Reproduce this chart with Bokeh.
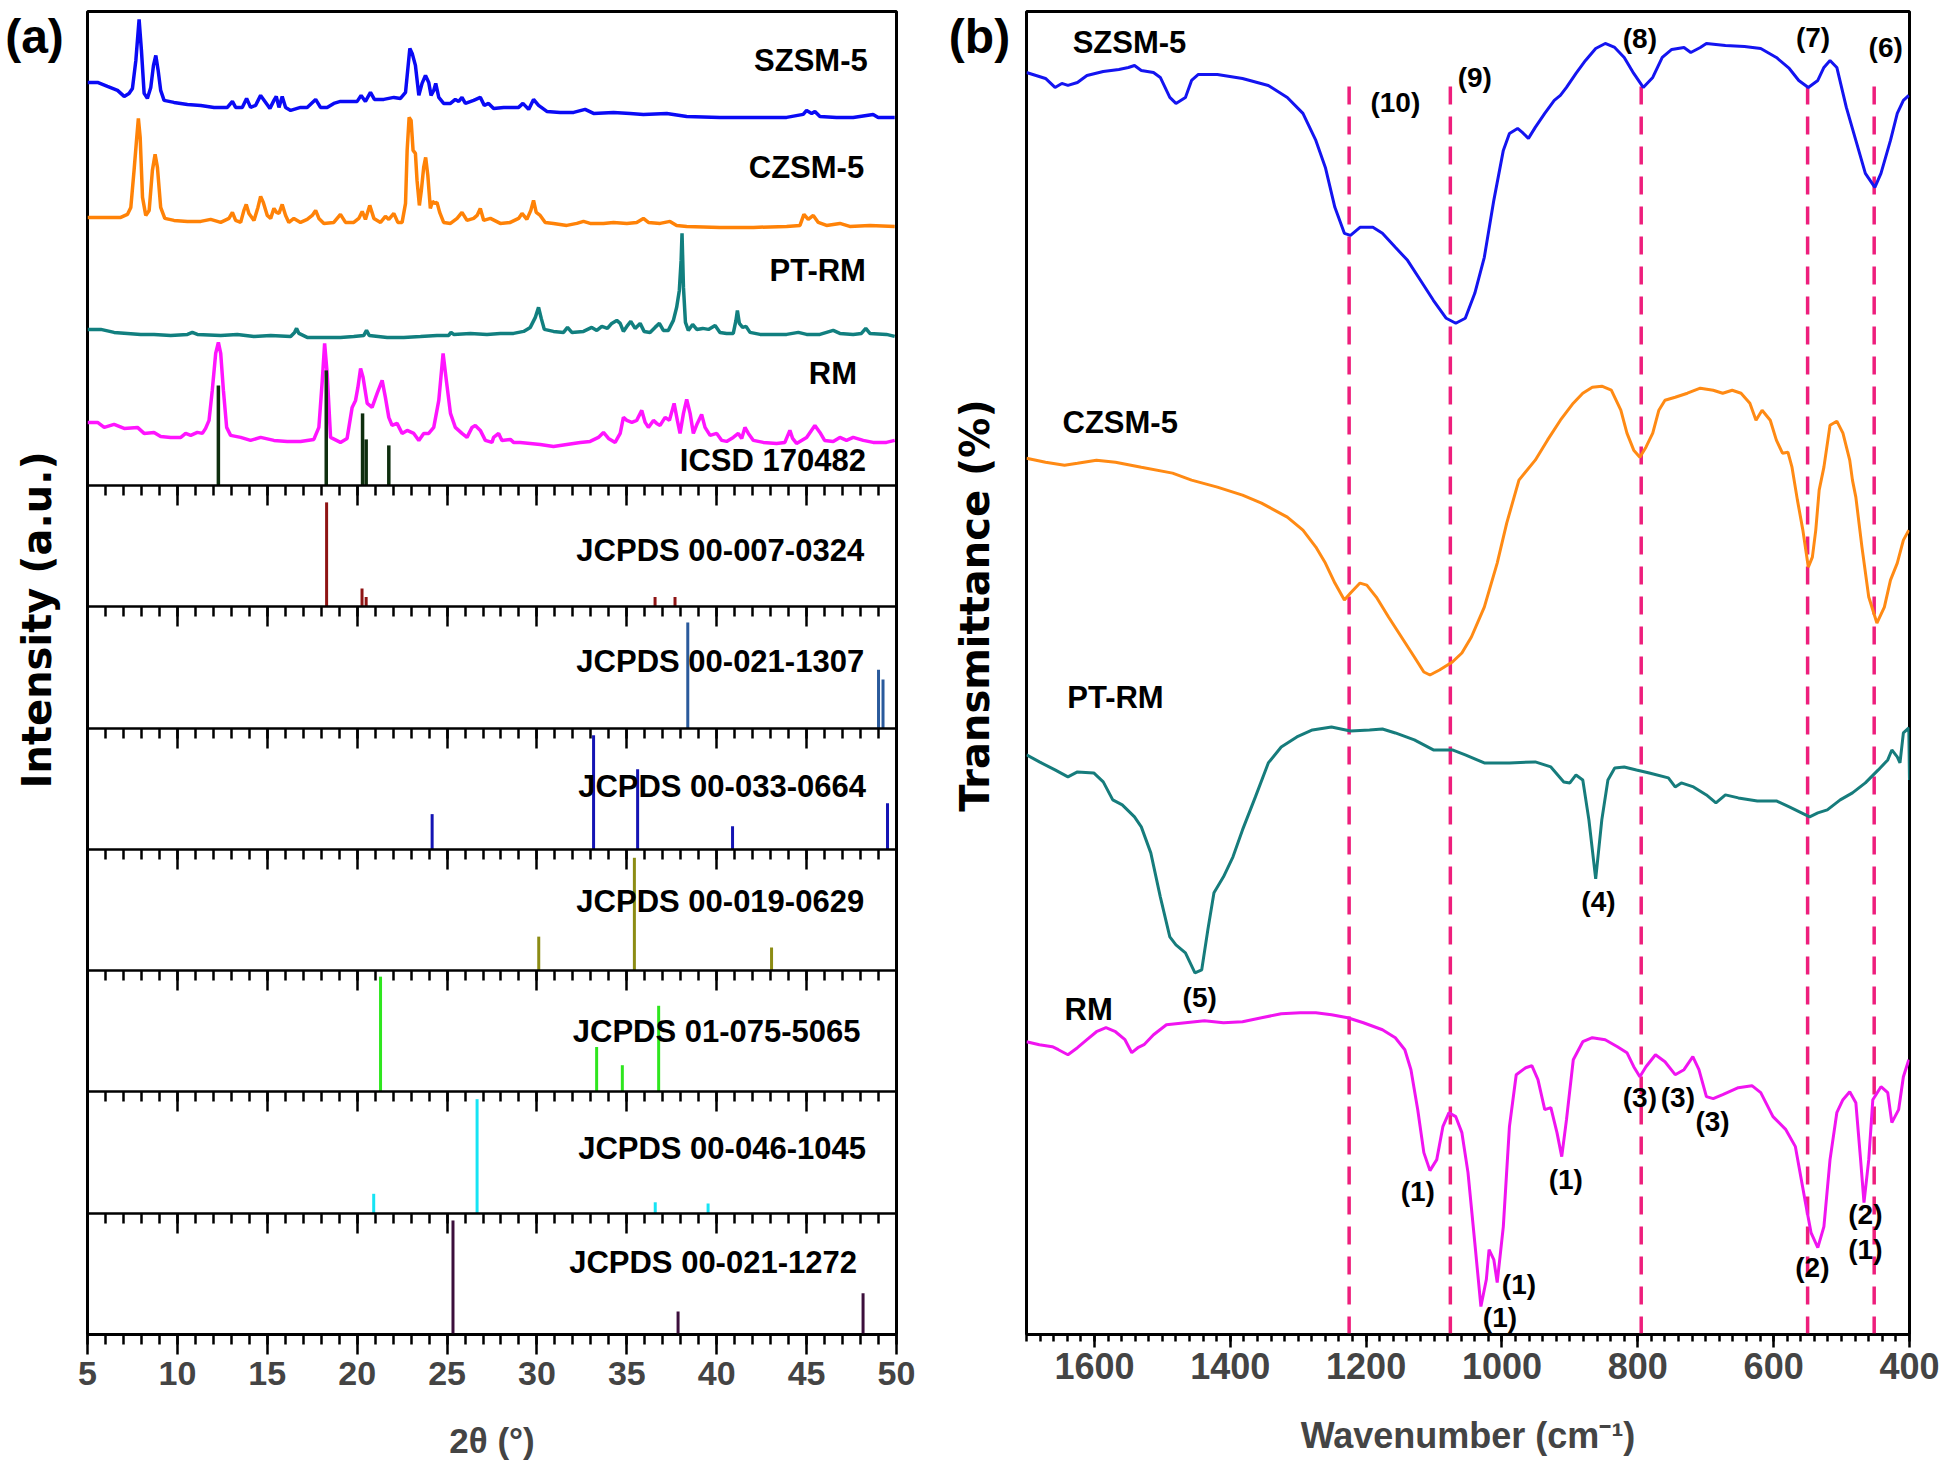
import numpy as np
from math import pi
from bokeh.plotting import figure
from bokeh.layouts import row
from bokeh.models import Range1d, LinearAxis, SingleIntervalTicker
from bokeh.core.properties import value
from bokeh.embed import file_html
from bokeh.resources import INLINE

FONT = "Liberation Sans"
WIDE = "DejaVu Sans"

# ======================= (a) XRD data =======================
# (2theta, intensity a.u.) ; intensities are stacked heights above the reference-card strips
SZSM_XRD = [(5.0,403),(5.56,403),(6.11,399),(6.67,395),(7.04,389),(7.31,392),(7.5,397),(7.69,425),(7.87,466),(8.0,435),
            (8.15,392),(8.33,387),(8.52,398),(8.67,420),(8.8,430),(8.93,415),(9.07,395),(9.26,385),(9.81,383),(10.56,381),
            (11.3,380),(12.04,378),(12.78,378),(13.06,384),(13.24,378),(13.61,378),(13.85,387),(14.07,378),(14.35,380),(14.63,390),
            (14.91,383),(15.15,377),(15.37,385),(15.5,389),(15.65,378),(15.83,389),(16.02,378),(16.3,375),(16.85,378),(17.22,378),
            (17.69,386),(17.96,378),(18.33,378),(18.7,382),(19.07,384),(19.63,384),(20.0,384),(20.22,390),(20.46,384),(20.74,393),
            (20.96,386),(21.48,386),(22.04,388),(22.41,387),(22.69,393),(22.81,415),(22.93,437),(23.06,432),(23.24,420),(23.43,390),
            (23.61,402),(23.8,410),(23.98,403),(24.11,390),(24.26,395),(24.37,402),(24.54,388),(24.81,382),(25.19,382),(25.46,386),
            (25.65,384),(25.83,388),(26.02,382),(26.48,385),(26.85,388),(27.07,380),(27.31,382),(27.59,377),(28.15,378),(28.98,378),
            (29.22,382),(29.54,376),(29.81,386),(30.09,380),(30.55,374),(31.29,373),(32.04,373),(32.68,376),(33.15,372),(34.26,373),
            (35.18,372),(35.92,371),(37.22,372),(38.33,369),(40.18,368),(42.04,368),(43.89,368),(44.81,371),(45.0,375),(45.28,372),
            (45.46,374),(45.74,369),(46.66,368),(47.59,368),(48.7,371),(48.98,368),(49.9,368)]

CZSM_XRD = [(5.0,268),(5.93,268),(6.85,268),(7.22,271),(7.41,278),(7.59,315),(7.74,348),(7.83,367),(7.93,348),(8.06,288),
            (8.24,270),(8.43,275),(8.61,315),(8.76,331),(8.89,318),(9.07,278),(9.3,267),(9.81,265),(10.56,264),(11.3,264),
            (11.85,266),(12.41,263),(12.87,267),(13.06,273),(13.24,265),(13.52,263),(13.7,275),(13.83,281),(13.98,272),(14.26,265),
            (14.48,278),(14.63,289),(14.78,283),(15.0,270),(15.19,267),(15.37,277),(15.52,273),(15.65,272),(15.83,281),(16.02,270),
            (16.2,263),(16.48,267),(16.85,263),(17.22,266),(17.5,270),(17.69,275),(17.87,267),(18.15,262),(18.7,263),(19.07,271),
            (19.35,263),(19.81,263),(20.09,267),(20.28,274),(20.46,266),(20.7,280),(20.93,267),(21.3,263),(21.57,269),(21.76,266),
            (22.04,272),(22.26,263),(22.5,263),(22.69,282),(22.78,335),(22.89,368),(23.0,365),(23.11,335),(23.24,332),(23.33,305),
            (23.46,280),(23.57,295),(23.7,318),(23.81,328),(23.93,310),(24.07,277),(24.19,284),(24.31,282),(24.44,283),(24.59,273),
            (24.81,263),(25.19,262),(25.56,267),(25.83,273),(26.11,265),(26.48,267),(26.67,270),(26.85,277),(27.04,265),(27.41,267),
            (27.96,262),(28.52,263),(28.98,267),(29.17,272),(29.44,266),(29.66,275),(29.81,285),(29.96,273),(30.18,270),(30.46,263),
            (30.92,262),(31.66,260),(32.22,262),(32.59,264),(32.96,262),(33.7,262),(34.26,263),(35.0,262),(35.55,263),(35.92,267),
            (36.2,263),(36.85,262),(37.4,264),(37.77,260),(38.33,259),(40.18,258),(42.04,258),(43.89,259),(44.63,260),(44.85,271),
            (45.09,266),(45.37,270),(45.65,263),(46.11,260),(46.85,262),(47.4,259),(48.52,260),(49.9,259)]

PTRM_XRD = [(5.0,156),(5.74,156),(6.48,153),(7.22,152),(7.96,151),(8.7,151),(9.63,150),(10.56,151),(10.83,153),(11.11,151),
            (12.41,150),(13.33,151),(14.26,149),(15.19,150),(16.3,149),(16.52,153),(16.63,157),(16.76,152),(17.22,148),(17.96,148),
            (19.07,148),(19.81,149),(20.37,150),(20.52,155),(20.67,150),(21.67,148),(22.59,148),(23.52,149),(24.44,150),(25.09,150),
            (25.22,153),(25.37,151),(26.3,152),(27.22,151),(27.96,152),(28.7,152),(29.26,154),(29.63,158),(29.91,168),(30.09,178),
            (30.24,167),(30.41,156),(30.92,154),(31.48,153),(31.7,158),(31.94,153),(32.59,154),(33.05,158),(33.33,155),(33.61,159),
            (33.92,157),(34.16,162),(34.44,165),(34.63,162),(34.81,154),(35.0,159),(35.22,164),(35.46,157),(35.74,162),(35.96,154),
            (36.29,153),(36.57,158),(36.81,162),(37.03,155),(37.31,155),(37.59,165),(37.77,178),(37.92,195),(38.02,225),(38.07,252),
            (38.15,198),(38.26,163),(38.42,155),(38.66,161),(38.89,156),(39.22,157),(39.54,156),(39.91,160),(40.18,153),(40.55,152),
            (40.92,152),(41.07,165),(41.15,175),(41.26,162),(41.44,158),(41.63,159),(41.85,153),(42.41,151),(43.15,151),(43.89,151),
            (44.54,153),(45.0,151),(45.74,151),(46.48,155),(46.85,152),(47.59,151),(48.05,152),(48.29,157),(48.52,152),(49.44,151),
            (49.9,149)]

RM_XRD = [(5.0,63),(5.56,63),(5.93,58),(6.48,61),(7.04,57),(7.78,58),(8.15,52),(8.7,53),(9.07,49),(9.63,48),
          (10.19,48),(10.46,52),(10.74,50),(11.11,53),(11.39,52),(11.57,57),(11.76,65),(11.94,95),(12.13,132),(12.28,143),
          (12.41,132),(12.56,95),(12.74,58),(12.96,50),(13.52,48),(14.07,45),(14.63,48),(15.37,45),(16.11,44),(16.85,44),
          (17.59,46),(17.87,58),(18.06,105),(18.19,142),(18.33,112),(18.52,48),(19.07,43),(19.44,47),(19.72,78),(19.91,85),
          (20.04,98),(20.19,117),(20.33,108),(20.56,82),(20.83,78),(21.11,92),(21.39,105),(21.57,88),(21.76,68),(21.94,60),
          (22.22,62),(22.5,52),(22.78,55),(23.15,52),(23.43,45),(23.7,52),(23.98,52),(24.26,58),(24.54,85),(24.78,132),
          (24.96,105),(25.19,72),(25.46,58),(25.83,52),(26.11,48),(26.39,58),(26.57,60),(26.85,55),(27.13,45),(27.5,43),
          (27.59,48),(27.87,52),(28.05,45),(28.52,46),(28.7,43),(29.07,43),(29.63,42),(30.18,41),(30.92,39),(31.66,41),
          (32.41,43),(32.96,44),(33.42,48),(33.7,53),(33.98,47),(34.35,43),(34.63,52),(34.81,68),(35.0,65),(35.28,63),
          (35.55,65),(35.83,75),(36.02,63),(36.2,58),(36.48,65),(36.66,62),(36.85,60),(37.13,68),(37.37,65),(37.63,82),
          (37.81,65),(37.96,52),(38.15,72),(38.33,86),(38.52,72),(38.7,52),(38.92,62),(39.16,71),(39.35,58),(39.63,50),
          (40.0,52),(40.28,45),(40.55,44),(40.92,48),(41.2,52),(41.39,47),(41.57,58),(41.76,52),(42.04,45),(42.59,43),
          (43.33,42),(43.79,43),(44.07,55),(44.22,47),(44.44,42),(45.0,48),(45.46,60),(45.74,53),(46.0,45),(46.48,44),
          (46.85,48),(47.22,45),(47.59,48),(48.15,45),(48.7,43),(49.44,43),(49.9,45)]

ICSD_POS = [12.28, 18.28, 20.3, 20.5, 21.76]
ICSD_INT = [100, 115, 72, 46, 40]

CARD_NAMES = ["JCPDS 00-007-0324", "JCPDS 00-021-1307", "JCPDS 00-033-0664", "JCPDS 00-019-0629",
              "JCPDS 01-075-5065", "JCPDS 00-046-1045", "JCPDS 00-021-1272"]
CARD_POS = [[18.3, 20.27, 20.5, 36.57, 37.68],
            [38.39, 49.0, 49.25],
            [24.17, 33.15, 35.6, 40.88, 49.5],
            [30.1, 35.42, 43.05],
            [21.3, 33.32, 34.75, 36.77],
            [20.92, 26.67, 36.58, 39.52],
            [25.33, 37.85, 48.14]]
CARD_INT = [[86, 15, 8, 8, 8],
            [87, 48, 40],
            [29, 94, 66, 19, 38],
            [28, 93, 19],
            [95, 37, 22, 71],
            [16, 94, 9, 8],
            [94, 19, 34]]
CARD_COLORS = ["#8E1414", "#2A5A9C", "#1414B4", "#8C8C14", "#2EE61E", "#16E4F4", "#3C0F3C"]
CARD_LABEL_X = [48.2, 48.2, 48.3, 48.2, 48.0, 48.3, 47.8]
CARD_LABEL_Y = [46, 55, 52, 57, 50, 53, 59]

XRD_NAMES = ["SZSM-5", "CZSM-5", "PT-RM", "RM", "ICSD 170482"]
XRD_LABEL_X = [48.4, 48.2, 48.3, 47.8, 48.3]
XRD_LABEL_Y = [425, 318, 215, 112, 25]
XRD_COLORS = ["#0A0AF5", "#FF8207", "#117F7F", "#FF14FF"]
ICSD_COLOR = "#0E2E0E"

# ======================= (b) FTIR data =======================
SZSM_FTIR = [(1700,126.3),(1672,125.7),(1658,124.8),(1648,125.2),(1639,125.0),(1625,125.3),(1611,126.0),(1587,126.4),(1564,126.6),
             (1550,126.8),(1541,127.0),(1531,126.5),(1513,126.3),(1503,125.8),(1489,123.8),(1480,123.2),(1466,123.8),(1457,125.5),
             (1447,126.1),(1419,126.1),(1382,125.7),(1344,125.0),(1316,123.8),(1293,122.2),(1274,119.5),(1260,116.8),(1246,112.8),
             (1232,110.2),(1223,110.0),(1209,110.8),(1190,110.8),(1176,110.2),(1157,108.8),(1139,107.5),(1120,105.5),(1101,103.5),
             (1082,101.7),(1068,101.2),(1054,101.7),(1040,104.2),(1026,107.8),(1012,113.5),(998,118.5),(989,120.2),(977,120.7),
             (970,120.3),(961,119.7),(951,120.8),(937,122.2),(923,123.5),(914,124.0),(905,124.8),(891,126.2),(877,127.5),(862,128.7),
             (848,129.2),(834,128.8),(820,127.8),(806,126.2),(792,124.8),(778,125.8),(764,127.8),(750,128.6),(732,128.8),(722,128.3),
             (708,128.8),(699,129.2),(671,129.0),(643,128.9),(619,128.7),(596,127.8),(577,126.7),(563,125.5),(549,124.8),(535,125.5),
             (526,126.8),(517,127.5),(507,126.8),(493,122.8),(479,119.5),(465,116.2),(451,114.8),(442,116.2),(428,119.5),(418,122.2),
             (409,123.5),(401,124.0)]

CZSM_FTIR = [(1700,87.7),(1672,87.3),(1644,87.0),(1625,87.2),(1597,87.5),(1569,87.3),(1531,86.8),(1485,86.2),(1457,85.5),
             (1419,84.8),(1382,84.0),(1354,83.2),(1316,81.8),(1293,80.5),(1274,78.8),(1260,77.2),(1246,75.2),(1232,73.5),
             (1223,74.2),(1209,75.2),(1199,75.0),(1185,73.8),(1167,71.8),(1148,69.8),(1129,67.8),(1115,66.3),(1106,66.0),
             (1092,66.5),(1073,67.3),(1059,68.2),(1045,69.8),(1026,72.8),(1007,77.2),(993,81.2),(975,85.5),(951,87.5),
             (933,89.5),(914,91.5),(895,93.2),(881,94.2),(867,94.8),(853,94.9),(839,94.5),(825,92.5),(816,90.2),(806,88.5),
             (797,87.8),(788,88.8),(778,90.2),(769,92.5),(760,93.5),(745,93.8),(727,94.2),(708,94.7),(689,94.5),(675,94.2),
             (661,94.5),(648,94.2),(635,93.2),(626,91.5),(617,92.5),(605,91.5),(596,89.5),(587,88.2),(579,88.3),(573,86.8),
             (565,83.5),(557,80.5),(549,76.8),(543,77.8),(538,80.5),(533,84.5),(526,86.8),(517,91.0),(507,91.4),(498,90.2),
             (488,87.5),(484,85.5),(479,83.8),(470,78.8),(460,73.8),(448,71.2),(437,72.8),(428,75.5),(418,77.2),(409,79.5),
             (401,80.5)]

PTRM_FTIR = [(1700,58.0),(1681,57.3),(1658,56.5),(1639,55.8),(1625,56.3),(1601,56.2),(1587,55.3),(1573,53.5),(1559,53.0),
             (1541,51.8),(1531,50.8),(1517,48.2),(1503,43.8),(1489,39.8),(1480,39.0),(1466,38.2),(1452,36.2),(1442,36.5),
             (1433,40.5),(1424,44.2),(1410,45.8),(1396,47.8),(1382,50.5),(1363,53.8),(1344,57.2),(1325,58.8),(1302,59.8),
             (1279,60.5),(1251,60.8),(1223,60.4),(1195,60.5),(1176,60.6),(1157,60.2),(1129,59.5),(1101,58.5),(1073,58.5),
             (1054,58.0),(1026,57.2),(989,57.2),(951,57.3),(928,56.8),(909,55.3),(900,55.2),(891,56.0),(881,55.5),(872,51.5),
             (862,45.6),(853,51.5),(844,55.5),(834,56.7),(820,56.8),(802,56.5),(783,56.2),(755,55.7),(745,54.8),(736,55.2),
             (718,54.8),(699,54.0),(685,53.2),(671,54.0),(652,53.7),(624,53.4),(596,53.4),(577,52.8),(559,52.2),(547,51.8),
             (535,52.2),(521,52.5),(502,53.5),(484,54.2),(465,55.2),(446,56.5),(432,57.5),(426,58.5),(418,57.8),(414,57.2),
             (409,60.2),(401,60.7),(400,55.5)]

RM_FTIR = [(1700,29.3),(1681,29.0),(1662,28.8),(1653,28.5),(1639,28.0),(1625,28.7),(1611,29.5),(1597,30.3),(1583,30.7),
           (1569,30.3),(1555,29.5),(1545,28.2),(1536,28.7),(1527,29.0),(1513,30.0),(1494,31.0),(1466,31.2),(1438,31.4),
           (1410,31.2),(1382,31.3),(1354,31.7),(1325,32.1),(1297,32.2),(1274,32.2),(1251,32.0),(1227,31.7),(1204,31.2),
           (1176,30.5),(1157,29.7),(1143,28.5),(1134,26.5),(1124,22.5),(1115,18.2),(1106,16.4),(1096,17.5),(1087,20.8),
           (1078,22.2),(1068,21.8),(1059,20.2),(1050,16.2),(1040,9.2),(1031,2.8),(1023,5.5),(1019,8.5),(1012,7.5),(1007,5.2),
           (998,10.8),(989,20.8),(979,26.0),(965,26.7),(956,26.9),(947,25.5),(937,22.5),(928,22.7),(919,20.2),(912,17.8),
           (905,21.5),(895,27.5),(881,29.3),(867,29.7),(848,29.5),(830,28.8),(816,28.2),(806,26.8),(797,25.8),(788,26.8),
           (774,28.0),(760,27.3),(745,26.0),(732,26.5),(719,27.8),(710,26.5),(699,23.8),(689,23.6),(675,24.0),(652,24.7),
           (632,24.9),(619,24.2),(601,21.8),(582,20.5),(568,18.8),(554,13.5),(545,10.2),(535,8.7),(526,10.8),(517,17.5),
           (507,22.2),(498,23.5),(488,24.3),(479,23.2),(472,17.5),(467,13.2),(460,17.5),(454,23.5),(442,24.8),(432,24.2),
           (426,21.2),(416,22.5),(409,25.8),(401,27.5)]

FTIR_NAMES = ["SZSM-5", "CZSM-5", "PT-RM", "RM"]
FTIR_LABEL_WN = [1632, 1647, 1640, 1644]
FTIR_LABEL_T = [129.3, 91.3, 63.7, 32.5]
FTIR_COLORS = ["#1414F0", "#FF8A14", "#167C7C", "#F014F0"]

BAND_WN = [1225, 1076, 795, 550, 452]
BAND_TOP = 126
BAND_COLOR = "#EE1E7C"

PEAK_TEXT = ["(10)", "(9)", "(8)", "(7)", "(6)", "(4)", "(5)", "(1)", "(1)", "(1)", "(1)",
             "(3)", "(3)", "(3)", "(2)", "(2)", "(1)"]
PEAK_WN = [1157, 1040, 797, 542, 435, 858, 1445, 1124, 975, 1003, 906, 797, 741, 690, 543, 465, 465]
PEAK_T = [123.3, 125.8, 129.7, 129.8, 128.8, 43.3, 33.7, 14.3, 5.0, 1.7, 15.5, 23.7, 23.7, 21.3, 6.7, 12.0, 8.5]

# ======================= layout constants (pixels) =======================
H_TOTAL = 1470
FRAME_TOP = 11

STRIP = 121.3
N_CARDS = len(CARD_NAMES)
SAMPLE_BASE = N_CARDS * STRIP
TOP_A = 1323
TOP_B = 132.4


def style_ticks(ax, maj_out, min_out):
    ax.major_tick_out = maj_out
    ax.major_tick_in = 0
    ax.minor_tick_out = min_out
    ax.minor_tick_in = 0
    ax.major_tick_line_width = 2.5
    ax.minor_tick_line_width = 2.5
    ax.axis_line_width = 2.5
    ax.major_tick_line_color = "black"
    ax.minor_tick_line_color = "black"
    ax.axis_line_color = "black"


def label_fig(x0, w):
    f = figure(width=w, height=H_TOTAL, x_range=Range1d(x0, x0 + w), y_range=Range1d(0, H_TOTAL),
               output_backend="svg", toolbar_location=None, min_border=0,
               x_axis_type=None, y_axis_type=None)
    f.outline_line_color = None
    f.grid.visible = False
    return f


# ---------------- left label strip for (a) ----------------
la = label_fig(0, 67)
la.text(x=[34], y=[H_TOTAL - 28], text=["(a)"], text_align="center", text_baseline="middle",
        text_font=value(FONT), text_font_style="bold", text_font_size="48px", text_color="black")
la.text(x=[36], y=[H_TOTAL - 676], text=["Intensity (a.u.)"], angle=pi / 2, text_align="center",
        text_baseline="middle", text_font=value(WIDE), text_font_style="bold", text_font_size="40px",
        text_color="black")

# ---------------- figure (a) ----------------
pa = figure(width=851, height=H_TOTAL, x_range=Range1d(5, 50), y_range=Range1d(0, TOP_A),
            output_backend="svg", toolbar_location=None,
            min_border_left=20, min_border_right=22, min_border_top=FRAME_TOP, min_border_bottom=136)
pa.grid.visible = False
pa.outline_line_color = "black"
pa.outline_line_width = 3
pa.yaxis.visible = False

xa = pa.xaxis[0]
xa.ticker = SingleIntervalTicker(interval=5, num_minor_ticks=5)
style_ticks(xa, 20, 10)
xa.major_label_text_font = FONT
xa.major_label_text_font_style = "bold"
xa.major_label_text_font_size = "34px"
xa.major_label_standoff = 7
xa.axis_label = "2θ (°)"
xa.axis_label_text_font = FONT
xa.axis_label_text_font_style = "bold"
xa.axis_label_text_font_size = "35px"
xa.axis_label_standoff = 33

for k in range(1, N_CARDS + 1):
    sep = LinearAxis(ticker=SingleIntervalTicker(interval=5, num_minor_ticks=5), fixed_location=k * STRIP)
    style_ticks(sep, 20, 10)
    sep.major_label_text_color = None
    pa.add_layout(sep, "below")

for data, col in zip([SZSM_XRD, CZSM_XRD, PTRM_XRD, RM_XRD], XRD_COLORS):
    arr = np.array(data, dtype=float)
    pa.line(arr[:, 0], SAMPLE_BASE + arr[:, 1], line_color=col, line_width=3.5)

pa.segment(x0=ICSD_POS, y0=[SAMPLE_BASE] * len(ICSD_POS), x1=ICSD_POS,
           y1=list(SAMPLE_BASE + np.array(ICSD_INT)), line_color=ICSD_COLOR, line_width=3.5)

pa.text(x=XRD_LABEL_X, y=list(SAMPLE_BASE + np.array(XRD_LABEL_Y)), text=XRD_NAMES,
        text_align="right", text_baseline="middle", text_font=value(FONT),
        text_font_style="bold", text_font_size="31px", text_color="black")

for c in range(N_CARDS):
    base = (N_CARDS - 1 - c) * STRIP
    pos = CARD_POS[c]
    tops = base + np.array(CARD_INT[c]) / 100.0 * STRIP
    pa.segment(x0=pos, y0=[base] * len(pos), x1=pos, y1=list(tops),
               line_color=CARD_COLORS[c], line_width=3)
    pa.text(x=[CARD_LABEL_X[c]], y=[base + CARD_LABEL_Y[c] / 100.0 * STRIP], text=[CARD_NAMES[c]],
            text_align="right", text_baseline="middle", text_font=value(FONT),
            text_font_style="bold", text_font_size="31px", text_color="black")

# ---------------- left label strip for (b) ----------------
lb = label_fig(918, 93)
lb.text(x=[979], y=[H_TOTAL - 28], text=["(b)"], text_align="center", text_baseline="middle",
        text_font=value(FONT), text_font_style="bold", text_font_size="48px", text_color="black")
lb.text(x=[974], y=[H_TOTAL - 660], text=["Transmittance (%)"], angle=pi / 2, text_align="center",
        text_baseline="middle", text_font=value(WIDE), text_font_style="bold", text_font_size="40px",
        text_color="black")

# ---------------- figure (b) ----------------
pb = figure(width=928, height=H_TOTAL, x_range=Range1d(1700, 400), y_range=Range1d(0, TOP_B),
            output_backend="svg", toolbar_location=None,
            min_border_left=15, min_border_right=30, min_border_top=FRAME_TOP, min_border_bottom=135)
pb.grid.visible = False
pb.outline_line_color = "black"
pb.outline_line_width = 3
pb.yaxis.visible = False

xb = pb.xaxis[0]
xb.ticker = SingleIntervalTicker(interval=200, num_minor_ticks=10)
style_ticks(xb, 13, 7)
xb.major_label_text_font = FONT
xb.major_label_text_font_style = "bold"
xb.major_label_text_font_size = "36px"
xb.major_label_standoff = 5
xb.axis_label = "Wavenumber (cm⁻¹)"
xb.axis_label_text_font = FONT
xb.axis_label_text_font_style = "bold"
xb.axis_label_text_font_size = "36px"
xb.axis_label_standoff = 33

pb.segment(x0=BAND_WN, y0=[0] * len(BAND_WN), x1=BAND_WN, y1=[BAND_TOP] * len(BAND_WN),
           line_color=BAND_COLOR, line_width=3.5, line_dash="18 12")

for data, col in zip([SZSM_FTIR, CZSM_FTIR, PTRM_FTIR, RM_FTIR], FTIR_COLORS):
    arr = np.array(data, dtype=float)
    pb.line(arr[:, 0], arr[:, 1], line_color=col, line_width=3)

pb.text(x=FTIR_LABEL_WN, y=FTIR_LABEL_T, text=FTIR_NAMES, text_align="left", text_baseline="middle",
        text_font=value(FONT), text_font_style="bold", text_font_size="31px", text_color="black")
pb.text(x=PEAK_WN, y=PEAK_T, text=PEAK_TEXT, text_align="center", text_baseline="middle",
        text_font=value(FONT), text_font_style="bold", text_font_size="28px", text_color="black")

layout = row(la, pa, lb, pb)
open("out.html", "w").write(file_html(layout, INLINE))
